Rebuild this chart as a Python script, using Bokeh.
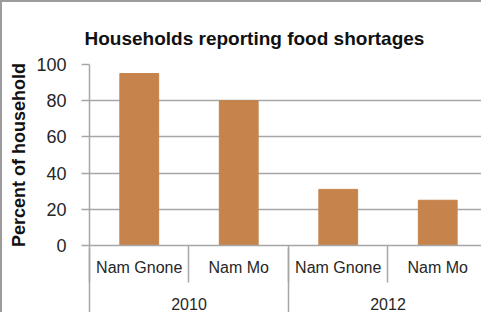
from bokeh.plotting import figure
from bokeh.models import FixedTicker, LinearAxis, Range1d
from bokeh.embed import file_html
from bokeh.resources import INLINE

# ---- data ----
years = ["2010", "2012"]
sites = ["Nam Gnone", "Nam Mo"]
values = [95, 80, 31, 25]          # 2010: Nam Gnone, Nam Mo ; 2012: Nam Gnone, Nam Mo
y_ticks = [0, 20, 40, 60, 80, 100]
title = "Households reporting food shortages"
y_title = "Percent of household"

labels = [s for _ in years for s in sites]
n = len(labels)


def key(v):
    return int(v) if float(v).is_integer() else v


centers = [i + 0.5 for i in range(n)]
group_centers = [key(len(sites) * (g + 0.5)) for g in range(len(years))]
inner_seps = list(range(n + 1))
outer_seps = [g * len(sites) for g in range(len(years) + 1)]

FONT = "Liberation Sans"
GRAY = "#a6a6a6"
TEXT = "#262626"
BAR = "#c6834b"

p = figure(width=481, height=312, x_range=Range1d(0, 3.96), y_range=Range1d(0, 100),
           output_backend="svg", toolbar_location=None, x_axis_type=None,
           min_border_left=87, min_border_right=0, min_border_top=62, min_border_bottom=69)
p.styles = {"border-top": "2px solid #9c9c9c", "border-left": "2px solid #9c9c9c"}
p.outline_line_color = None
p.background_fill_color = "white"
p.border_fill_color = "white"

p.vbar(x=centers, top=values, width=0.39, fill_color=BAR, line_color=BAR)

# title
p.title.text = title
p.title.text_font = FONT
p.title.text_font_size = "19px"
p.title.text_font_style = "bold"
p.title.text_color = "#111111"
p.title.align = "left"
p.title.offset = -5
p.title.standoff = 32

# y axis
ya = p.yaxis[0]
ya.ticker = FixedTicker(ticks=y_ticks)
ya.axis_label = y_title
ya.axis_label_text_font = FONT
ya.axis_label_text_font_size = "18px"
ya.axis_label_text_font_style = "bold"
ya.axis_label_text_color = "#111111"
ya.axis_label_standoff = 4
ya.major_label_text_font = FONT
ya.major_label_text_font_size = "18px"
ya.major_label_text_color = TEXT
ya.major_label_standoff = 15
ya.major_tick_out = 8
ya.major_tick_in = 0
ya.minor_tick_line_color = None
ya.major_tick_line_color = GRAY
ya.major_tick_line_width = 1.5
ya.axis_line_color = GRAY
ya.axis_line_width = 1.5

p.ygrid.grid_line_color = GRAY
p.ygrid.grid_line_width = 1.5
p.ygrid.ticker = FixedTicker(ticks=y_ticks)
p.xgrid.visible = False

# x axis: site labels
ax1 = LinearAxis(ticker=FixedTicker(ticks=centers, minor_ticks=inner_seps),
                 major_label_overrides={c: l for c, l in zip(centers, labels)})
ax1.axis_line_color = GRAY
ax1.axis_line_width = 1.5
ax1.major_tick_out = 0
ax1.major_tick_in = 0
ax1.minor_tick_out = 37
ax1.minor_tick_in = 0
ax1.minor_tick_line_color = GRAY
ax1.minor_tick_line_width = 1.5
ax1.major_label_standoff = -24
ax1.major_label_text_font = FONT
ax1.major_label_text_font_size = "16px"
ax1.major_label_text_color = TEXT

# x axis: year labels
ax2 = LinearAxis(ticker=FixedTicker(ticks=group_centers, minor_ticks=outer_seps),
                 major_label_overrides={c: y for c, y in zip(group_centers, years)})
ax2.axis_line_color = None
ax2.major_tick_out = 0
ax2.major_tick_in = 0
ax2.minor_tick_out = 40
ax2.minor_tick_in = 30
ax2.minor_tick_line_color = GRAY
ax2.minor_tick_line_width = 1.5
ax2.major_label_standoff = -21
ax2.major_label_text_font = FONT
ax2.major_label_text_font_size = "16px"
ax2.major_label_text_color = TEXT

p.add_layout(ax1, "below")
p.add_layout(ax2, "below")

open("out.html", "w").write(file_html(p, INLINE))
